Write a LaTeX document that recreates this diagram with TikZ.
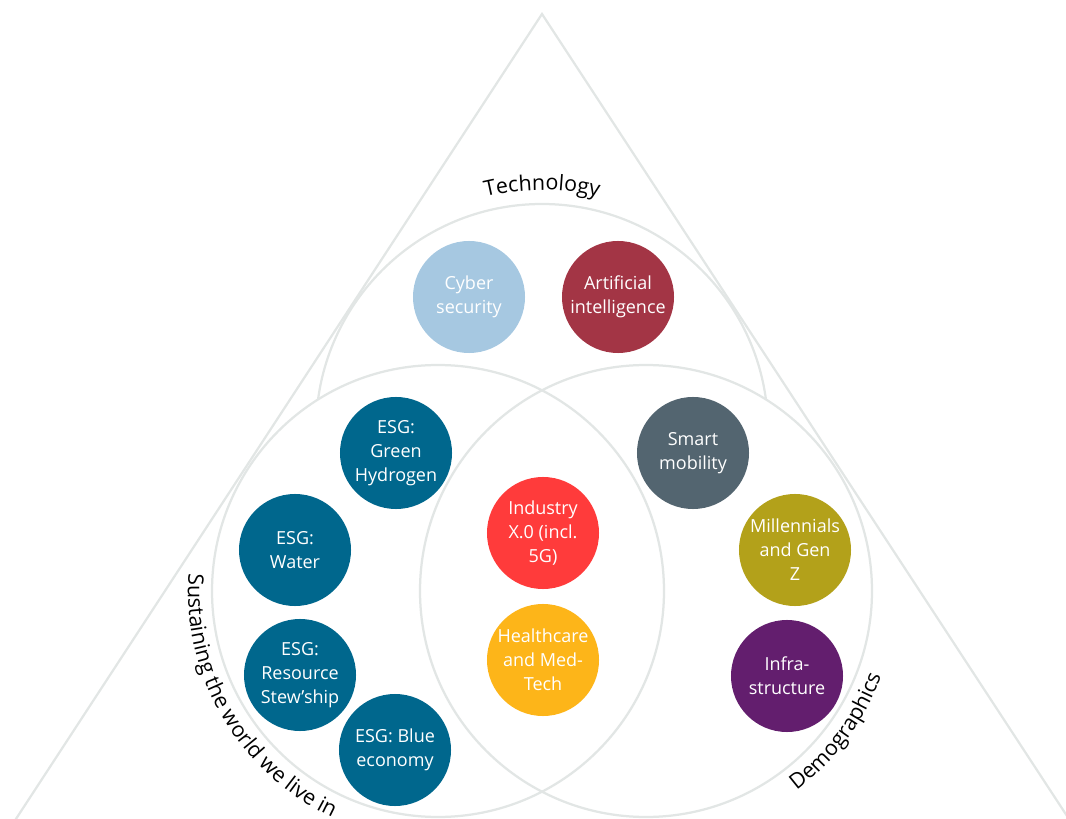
\documentclass[tikz,border=0pt]{standalone}
\usepackage{fontspec}
\setmainfont{Open Sans}
\usetikzlibrary{decorations.text}

\definecolor{ringgrey}{HTML}{E2E6E5}
\definecolor{cybercol}{HTML}{A6C8E1}
\definecolor{aicol}{HTML}{A33545}
\definecolor{esgcol}{HTML}{00678D}
\definecolor{mobilitycol}{HTML}{536570}
\definecolor{gencol}{HTML}{B3A11A}
\definecolor{infracol}{HTML}{631E6E}
\definecolor{industrycol}{HTML}{FF3B3B}
\definecolor{healthcol}{HTML}{FDB519}

\def\bubblefont{\fontsize{12.8}{17}\selectfont}
\def\labelfont{\fontsize{15.2}{17}\selectfont}

\tikzset{
	ring/.style={draw=ringgrey, line width=1.6pt},
	bubble/.style={circle, fill=#1, text=white, minimum size=2.8cm, inner sep=0pt, align=center, font=\bubblefont},
	curvedlabel/.style={decorate, decoration={text along path, text align=#1}},
}

\begin{document}
\begin{tikzpicture}[x=0.025cm, y=0.025cm]
			%%%%% START %%%%%
			
			\useasboundingbox (0, -819) rectangle (1066, 0);
			\begin{scope}
			\clip (0, -819) rectangle (1066, 0);
			
			\draw[ring] (-37, -900) -- (542, -14) -- (1122, -900);
			
			\draw[ring] (542, -430) circle (226);
			\fill[white] (438, -591) circle (226) (646, -591) circle (226);
			\draw[ring] (438, -591) circle (226);
			\draw[ring] (646, -591) circle (226);
			
			\path[curvedlabel=center, decoration={text={|\labelfont|Technology}}] (542, -430) ++(120:240) arc[start angle=120, end angle=60, radius=240];
			\path[curvedlabel=left, decoration={text={|\labelfont|Sustaining the world we live in}}] (438, -591) ++(176:250) arc[start angle=176, end angle=262, radius=250];
			\path[curvedlabel=left, decoration={text={|\labelfont|Demographics}}] (646, -591) ++(-53:250) arc[start angle=-53, end angle=0, radius=250];
			
			\node[bubble=cybercol] (cyber) at (469, -297) {Cyber\\security};
			\node[bubble=aicol] (ai) at (618, -297) {Artificial\\intelligence};
			
			\node[bubble=esgcol] (hydrogen) at (396, -453) {ESG:\\Green\\Hydrogen};
			\node[bubble=esgcol] (water) at (295, -550) {ESG:\\Water};
			\node[bubble=esgcol] (resource) at (300, -675) {ESG:\\Resource\\Stew'ship};
			\node[bubble=esgcol] (blue) at (395, -750) {ESG: Blue\\economy};
			
			\node[bubble=industrycol] (industry) at (543, -533) {Industry\\X.0 (incl.\\5G)};
			\node[bubble=healthcol] (health) at (543, -660) {Healthcare\\and Med-\\Tech};
			
			\node[bubble=mobilitycol] (mobility) at (693, -453) {Smart\\mobility};
			\node[bubble=gencol] (millennials) at (795, -550) {Millennials\\and Gen\\Z};
			\node[bubble=infracol] (infra) at (787, -676) {Infra-\\structure};
			
			\end{scope}
			
			%%%%% END %%%%%
\end{tikzpicture}
\end{document}
